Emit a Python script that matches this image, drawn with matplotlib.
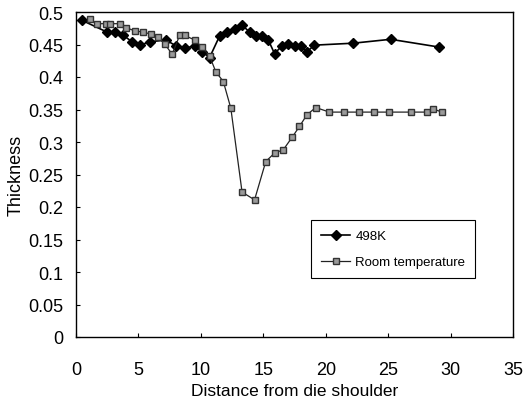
import matplotlib
matplotlib.use("Agg")
import matplotlib.pyplot as plt

plt.rcParams['font.family'] = ['Liberation Sans', 'DejaVu Sans']

x_498 = [0.5, 2.5, 3.1, 3.8, 4.5, 5.1, 5.9, 7.2, 8.0, 8.7, 9.5, 10.1, 10.7,
         11.5, 12.1, 12.7, 13.3, 13.9, 14.4, 14.9, 15.4, 15.9, 16.5, 17.0,
         17.5, 18.0, 18.5, 19.1, 22.2, 25.2, 29.1]
y_498 = [0.487, 0.469, 0.469, 0.464, 0.454, 0.449, 0.454, 0.457, 0.448,
         0.444, 0.448, 0.439, 0.430, 0.463, 0.469, 0.474, 0.480, 0.469,
         0.463, 0.463, 0.457, 0.436, 0.448, 0.451, 0.448, 0.448, 0.439,
         0.449, 0.452, 0.458, 0.446]

x_rt = [1.1, 1.65, 2.4, 2.7, 3.5, 4.0, 4.7, 5.4, 6.0, 6.6, 7.1, 7.7, 8.3,
        8.7, 9.5, 10.1, 10.7, 11.2, 11.8, 12.4, 13.3, 14.3, 15.2, 15.9,
        16.6, 17.3, 17.9, 18.5, 19.2, 20.3, 21.5, 22.7, 23.9, 25.1, 26.8,
        28.1, 28.6, 29.3]
y_rt = [0.489, 0.482, 0.482, 0.482, 0.482, 0.476, 0.471, 0.469, 0.466,
        0.461, 0.451, 0.435, 0.464, 0.464, 0.457, 0.446, 0.432, 0.408,
        0.393, 0.352, 0.223, 0.211, 0.270, 0.283, 0.288, 0.307, 0.324,
        0.342, 0.353, 0.346, 0.346, 0.346, 0.346, 0.346, 0.346, 0.346,
        0.351, 0.346]

fig = plt.figure(figsize=(5.25, 4.06), dpi=100)
ax = fig.add_axes([76/525, (406-338)/406, (513-76)/525, (338-13)/406])

ax.plot(x_498, y_498, color='black', lw=1.2, marker='D', markersize=5.5,
        markerfacecolor='black', markeredgecolor='black', label='498K', zorder=3)
ax.plot(x_rt, y_rt, color='#222222', lw=0.9, marker='s', markersize=5,
        markerfacecolor='#9a9a9a', markeredgecolor='#333333', markeredgewidth=1.0,
        label='Room temperature', zorder=4)

ax.set_xlim(0, 35)
ax.set_ylim(0, 0.5)
ax.set_xticks(range(0, 36, 5))
ax.set_yticks([0, 0.05, 0.1, 0.15, 0.2, 0.25, 0.3, 0.35, 0.4, 0.45, 0.5])
ax.set_yticklabels(['0', '0.05', '0.1', '0.15', '0.2', '0.25', '0.3', '0.35', '0.4', '0.45', '0.5'])
ax.tick_params(direction='in', length=3, width=0.8, labelsize=13)
ax.tick_params(axis='y', pad=9)
ax.tick_params(axis='x', pad=17)
for s in ax.spines.values():
    s.set_linewidth(1.0)
    s.set_color('black')

ax.set_xlabel('Distance from die shoulder', fontsize=12.5, labelpad=4)
ax.set_ylabel('Thickness', fontsize=13, labelpad=3)

leg = ax.legend(loc='upper left', bbox_to_anchor=(0.538, 0.36), fontsize=9.5,
                frameon=True, fancybox=False, edgecolor='black', framealpha=1,
                handlelength=2.2, handletextpad=0.4, borderpad=0.75,
                labelspacing=1.05, borderaxespad=0)
leg.get_frame().set_linewidth(0.8)

fig.savefig('out.png', dpi=100)
